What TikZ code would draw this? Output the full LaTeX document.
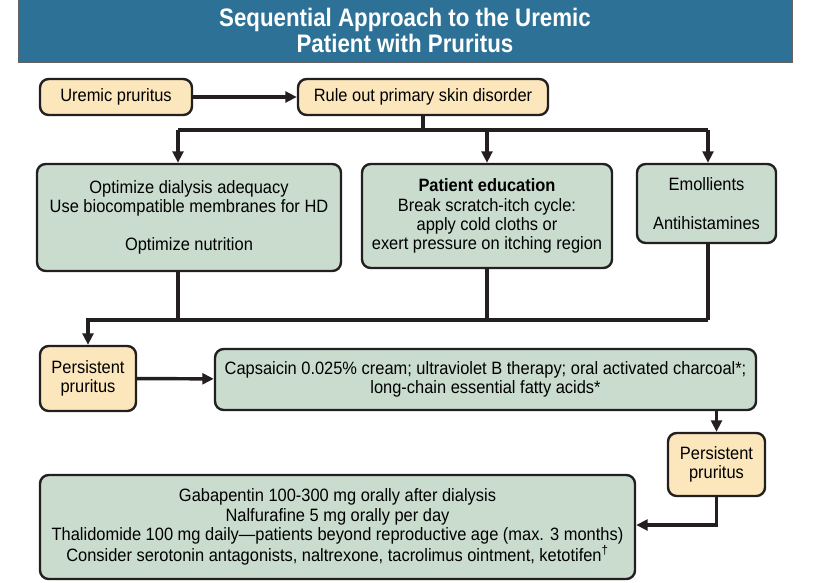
\documentclass[tikz,border=0pt]{standalone}
\usepackage{fontspec}
\setmainfont{Liberation Sans}[FakeStretch=0.92]
\newfontfamily\titlefont{Liberation Sans}[FakeStretch=0.88]
\usetikzlibrary{arrows.meta}
\definecolor{banner}{HTML}{2D7197}
\definecolor{peach}{HTML}{FCE6BC}
\definecolor{sage}{HTML}{C9DCCE}
\definecolor{ink}{HTML}{231F20}
\begin{document}
\begin{tikzpicture}[x=0.75pt,y=-0.75pt,
  box/.style={draw=ink, line width=1.8pt, rounded corners=6.5pt, align=center, inner sep=0pt,
              font=\fontsize{13.4}{14.4}\selectfont},
  ybox/.style={box, fill=peach},
  gbox/.style={box, fill=sage},
  sz/.style 2 args={minimum width={#1*0.75pt}, minimum height={#2*0.75pt}},
  conn/.style={line width=2.6pt, draw=ink},
  arr/.style={conn, -{Triangle[length=8.5pt,width=8pt]}}]
\useasboundingbox (0,0) rectangle (816,582);

% title banner
\node[fill=banner, draw=ink!70, line width=0.6pt, sz={774}{63}, inner sep=0pt, align=center,
      text=white, font=\titlefont\bfseries\fontsize{19}{19.5}\selectfont] (title) at (405,30.5)
  {Sequential Approach to the Uremic\\Patient with Pruritus};

% nodes
\node[ybox, sz={152}{36}] (u) at (116,97) {Uremic pruritus};
\node[ybox, sz={250}{36}] (r) at (423,97) {Rule out primary skin disorder};
\node[gbox, sz={304}{107}] (a) at (189,217.5)
  {Optimize dialysis adequacy\\Use biocompatible membranes for HD\\[14.4pt]Optimize nutrition};
\node[gbox, sz={250}{104}] (b) at (487,216)
  {\textbf{Patient education}\\Break scratch-itch cycle:\\apply cold cloths or\\exert pressure on itching region};
\node[gbox, sz={139}{79}] (c) at (706.5,203.5) {Emollients\\[14.4pt]Antihistamines};
\node[ybox, sz={96}{65}] (p1) at (88,378.5) {Persistent\\pruritus};
\node[gbox, sz={541}{61}] (cap) at (485.5,379.5)
  {Capsaicin 0.025\% cream; ultraviolet B therapy; oral activated charcoal*;\\long-chain essential fatty acids*};
\node[ybox, sz={97}{63}] (p2) at (716.5,464.5) {Persistent\\pruritus};
\node[gbox, sz={595}{104}] (d) at (337.5,527)
  {Gabapentin 100-300 mg orally after dialysis\\
   Nalfurafine 5 mg orally per day\\
   Thalidomide 100 mg daily—patients beyond reproductive age (max. 3 months)\\
   Consider serotonin antagonists, naltrexone, tacrolimus ointment, ketotifen\textsuperscript{†}};

% junction coordinates
\coordinate (hl) at (178,130);
\coordinate (hr) at (708,130);
\coordinate (bl) at (88,320);
\coordinate (br) at (708,320);
\coordinate (k) at (716.5,525);

% connectors
\draw[arr] (u) -- (r);
\draw[conn] (r.south) -- (r.south |- hl);
\draw[conn] (hl) -- (hr);
\draw[arr] (hl) -- (hl |- a.north);
\draw[arr] (b.north |- hl) -- (b.north);
\draw[arr] (hr) -- (hr |- c.north);

\draw[conn] (hl |- a.south) -- (hl |- bl);
\draw[conn] (b.south) -- (b.south |- bl);
\draw[conn] (hr |- c.south) -- (br);
\draw[arr] (br) -- (bl) -- (p1.north);

\draw[arr] (p1) -- (cap);
\draw[arr] (p2.north |- cap.south) -- (p2.north);
\draw[arr] (p2.south) -- (k) -- (d.east |- k);
\end{tikzpicture}
\end{document}
